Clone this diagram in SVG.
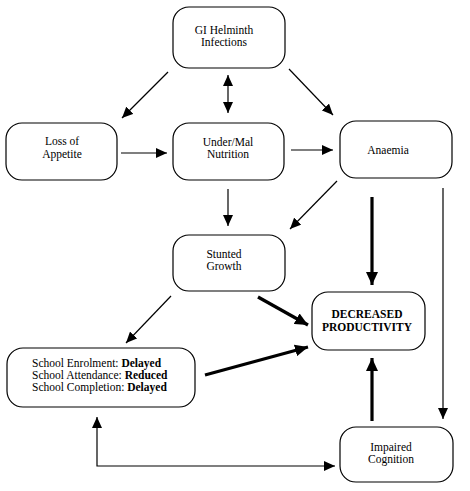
<svg xmlns="http://www.w3.org/2000/svg" width="470" height="491" viewBox="0 0 470 491">
<style>
.box{fill:#fff;stroke:#000;stroke-width:1.2}
.t{font-family:'Liberation Serif','Times New Roman',Times,serif;font-size:11.5px;fill:#000;text-anchor:middle}
.s{text-anchor:start}
.b{font-weight:bold}
.thin{stroke:#000;stroke-width:1.2;fill:none}
.thick{stroke:#000;stroke-width:3.2;fill:none}
</style>
<defs>
<marker id="ah" markerUnits="userSpaceOnUse" markerWidth="12" markerHeight="10" refX="11" refY="5" orient="auto-start-reverse" viewBox="0 0 12 10">
<path d="M0,0 L11,5 L0,10 z" fill="#000"/>
</marker>
<marker id="ahT" markerUnits="userSpaceOnUse" markerWidth="14" markerHeight="12" refX="13" refY="6" orient="auto" viewBox="0 0 14 12">
<path d="M0,0 L13,6 L0,12 z" fill="#000"/>
</marker>
</defs>
<g id="connectors">
<line class="thin" x1="168" y1="72" x2="122" y2="118" marker-end="url(#ah)"/>
<line class="thin" x1="228" y1="75" x2="228" y2="113" marker-start="url(#ah)" marker-end="url(#ah)"/>
<line class="thin" x1="289" y1="69" x2="333" y2="115" marker-end="url(#ah)"/>
<line class="thin" x1="121" y1="153" x2="167" y2="153" marker-end="url(#ah)"/>
<line class="thin" x1="291" y1="150" x2="333" y2="150" marker-end="url(#ah)"/>
<line class="thin" x1="228" y1="189" x2="228" y2="226" marker-end="url(#ah)"/>
<line class="thin" x1="337" y1="181" x2="290" y2="229" marker-end="url(#ah)"/>
<line class="thick" x1="372" y1="197" x2="372" y2="285" marker-end="url(#ahT)"/>
<line class="thin" x1="443" y1="188" x2="443" y2="419" marker-end="url(#ah)"/>
<line class="thin" x1="171" y1="296" x2="126" y2="343" marker-end="url(#ah)"/>
<line class="thick" x1="258" y1="297" x2="308" y2="325" marker-end="url(#ahT)"/>
<line class="thick" x1="205" y1="375" x2="308" y2="347" marker-end="url(#ahT)"/>
<line class="thick" x1="372" y1="421" x2="372" y2="358" marker-end="url(#ahT)"/>
<polyline class="thin" points="97,417 97,466 335,466" marker-start="url(#ah)" marker-end="url(#ah)"/>
</g>
<g id="gi">
<rect class="box" x="173" y="7" width="112" height="61" rx="16"/>
<text class="t" x="224" y="34" font-family="Liberation Serif, serif">GI Helminth</text>
<text class="t" x="224" y="46" font-family="Liberation Serif, serif">Infections</text>
</g>
<g id="loss">
<rect class="box" x="6" y="123" width="111" height="57" rx="16"/>
<text class="t" x="62" y="145" font-family="Liberation Serif, serif">Loss of</text>
<text class="t" x="62" y="158" font-family="Liberation Serif, serif">Appetite</text>
</g>
<g id="under">
<rect class="box" x="173" y="123" width="111" height="57" rx="16"/>
<text class="t" x="228" y="146" font-family="Liberation Serif, serif">Under/Mal</text>
<text class="t" x="228" y="158" font-family="Liberation Serif, serif">Nutrition</text>
</g>
<g id="anaemia">
<rect class="box" x="340" y="121" width="112" height="57" rx="16"/>
<text class="t" x="388" y="154" font-family="Liberation Serif, serif">Anaemia</text>
</g>
<g id="stunted">
<rect class="box" x="173" y="235" width="112" height="56" rx="16"/>
<text class="t" x="224" y="258" font-family="Liberation Serif, serif">Stunted</text>
<text class="t" x="224" y="270" font-family="Liberation Serif, serif">Growth</text>
</g>
<g id="decreased">
<rect class="box" x="312" y="292" width="113" height="58" rx="16"/>
<text class="t b" x="367" y="318" font-family="Liberation Serif, serif">DECREASED</text>
<text class="t b" x="367" y="331" font-family="Liberation Serif, serif">PRODUCTIVITY</text>
</g>
<g id="school">
<rect class="box" x="7" y="348" width="188" height="59" rx="16"/>
<text class="t s" x="32" y="367" font-family="Liberation Serif, serif">School Enrolment: <tspan class="b">Delayed</tspan></text>
<text class="t s" x="32" y="379" font-family="Liberation Serif, serif">School Attendance: <tspan class="b">Reduced</tspan></text>
<text class="t s" x="32" y="391" font-family="Liberation Serif, serif">School Completion: <tspan class="b">Delayed</tspan></text>
</g>
<g id="impaired">
<rect class="box" x="340" y="427" width="113" height="55" rx="16"/>
<text class="t" x="391" y="451" font-family="Liberation Serif, serif">Impaired</text>
<text class="t" x="391" y="463" font-family="Liberation Serif, serif">Cognition</text>
</g>
</svg>
